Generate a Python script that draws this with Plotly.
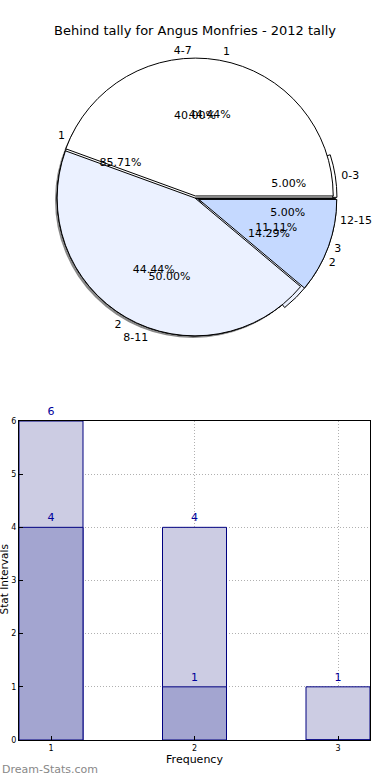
import plotly.graph_objects as go

# ---- data ----
title_text = "Behind tally for Angus Monfries - 2012 tally"

pieA_labels = ["0-3", "4-7", "8-11", "12-15"]
pieA_values = [1, 8, 10, 1]
pieB_labels = ["1", "2", "3"]
pieB_values = [4, 4, 1]
pieC_labels = ["1", "2"]
pieC_values = [6, 1]

pie_colors = ["#FFFFFF", "#EBF1FF", "#C5D9FF", "#A9C6FF"]

freq_x = [1, 2, 3]
light_vals = [6, 4, 1]
dark_vals = [4, 1, 0]

FONT = "DejaVu Sans"
W, H = 390, 780

# pie geometry (pixels)
cx, cy, r0 = 195, 198, 142


def dom(cxp, cyp, r):
    return dict(x=[(cxp - r) / W, (cxp + r) / W],
                y=[(H - cyp - r) / H, (H - cyp + r) / H])


# slices run counter-clockwise from 3 o'clock (drawn as reversed + clockwise)
# (labels, values, pull, inner-text scale for thin slices)
pies = [
    (pieA_labels, pieA_values, [0.03, 0, 0, 0.02], 0.77),
    (pieC_labels, pieC_values, [0, 0.03], 0.82),
    (pieB_labels, pieB_values, [0.015, 0, 0.03], 0.81),
]

fig = go.Figure()

# shadow
fig.add_trace(go.Pie(values=[1], labels=["shadow"], domain=dom(cx - 2, cy + 2, 138),
                     marker=dict(colors=["#6a6a6a"], line=dict(width=0)),
                     textinfo="none", hoverinfo="skip", sort=False, showlegend=False,
                     opacity=0.8))

base = dict(sort=False, direction="clockwise", rotation=90,
            hoverinfo="skip", showlegend=False)

# filled wedges
for labels, values, pull, _ in pies:
    n = len(values)
    fig.add_trace(go.Pie(labels=labels[::-1], values=values[::-1], pull=pull[::-1],
                         domain=dom(cx, cy, r0),
                         marker=dict(colors=pie_colors[:n][::-1],
                                     line=dict(color="#000000", width=1)),
                         textinfo="none", **base))

# texts on top (transparent wedges)
clear = "rgba(0,0,0,0)"
blackfont = dict(family=FONT, size=11, color="#000000")
for labels, values, pull, sc in pies:
    n = len(values)
    tot = sum(values)
    lab_r, val_r, pull_r = labels[::-1], values[::-1], pull[::-1]
    big = ["%{percent:.2%}" if v / tot >= 0.2 else "" for v in val_r]
    small = ["%{percent:.2%}" if v / tot < 0.2 else "" for v in val_r]
    for tmpl, rr in ((big, r0), (small, r0 * sc)):
        fig.add_trace(go.Pie(labels=lab_r, values=val_r, pull=pull_r,
                             domain=dom(cx, cy, rr), hole=0.2,
                             marker=dict(colors=[clear] * n, line=dict(width=0)),
                             texttemplate=tmpl, textposition="inside",
                             insidetextorientation="horizontal",
                             textfont=blackfont, insidetextfont=blackfont,
                             **base))
    fig.add_trace(go.Pie(labels=lab_r, values=val_r, pull=pull_r,
                         domain=dom(cx, cy, r0 * 1.02),
                         marker=dict(colors=[clear] * n, line=dict(width=0)),
                         textinfo="label", textposition="outside",
                         textfont=blackfont, outsidetextfont=blackfont,
                         **base))

# bars
fig.add_trace(go.Bar(x=freq_x, y=light_vals, width=0.446,
                     marker=dict(color="#CCCCE3", line=dict(color="#000080", width=1)),
                     text=[str(v) if v else "" for v in light_vals],
                     textposition="outside", cliponaxis=False,
                     textfont=dict(family=FONT, size=11, color="#00009A"),
                     hoverinfo="skip", showlegend=False))
fig.add_trace(go.Bar(x=freq_x, y=dark_vals, width=0.446,
                     marker=dict(color="#A3A5D0", line=dict(color="#000080", width=1)),
                     text=[str(v) if v else "" for v in dark_vals],
                     textposition="outside", cliponaxis=False,
                     textfont=dict(family=FONT, size=11, color="#00009A"),
                     hoverinfo="skip", showlegend=False))

grid = dict(showgrid=True, gridcolor="#B0B0B0", griddash="1px,2px", gridwidth=1)

fig.update_layout(
    width=W, height=H,
    margin=dict(l=0, r=0, t=0, b=0, autoexpand=False),
    paper_bgcolor="white", plot_bgcolor="white",
    barmode="overlay",
    font=dict(family=FONT, size=11, color="#000000"),
    uniformtext=dict(mode="show", minsize=11),
    title=dict(text=title_text, x=0.5, xanchor="center", y=1 - 30 / H, yanchor="middle",
               font=dict(family=FONT, size=13, color="#000000")),
    xaxis=dict(domain=[19 / W, 370 / W], range=[1 - 0.223, 3 + 0.223], automargin=False,
               tickvals=freq_x, ticktext=[str(v) for v in freq_x],
               showline=True, linecolor="#000000", linewidth=1, mirror=True,
               ticks="inside", ticklen=4, tickcolor="#000000",
               zeroline=False, tickfont=dict(family=FONT, size=8),
               title=dict(text="Frequency", font=dict(family=FONT, size=11), standoff=2),
               **grid),
    yaxis=dict(domain=[(H - 740) / H, (H - 421) / H], range=[0, 6], automargin=False,
               tickvals=[0, 1, 2, 3, 4, 5, 6],
               showline=True, linecolor="#000000", linewidth=1, mirror=True,
               ticks="inside", ticklen=4, tickcolor="#000000",
               zeroline=False, tickfont=dict(family=FONT, size=8),
               **grid),
    annotations=[
        dict(text="Stat Intervals", textangle=-90, xref="paper", yref="paper",
             x=3.5 / W, y=(H - 580) / H, xanchor="center", yanchor="middle",
             showarrow=False, font=dict(family=FONT, size=10.5, color="#000000")),
        dict(text="Dream-Stats.com", xref="paper", yref="paper",
             x=0, y=(H - 769) / H, xanchor="left", yanchor="middle",
             showarrow=False, font=dict(family=FONT, size=11, color="#888888")),
    ],
)

# page body has a default 8px margin; remove it so the figure fills the window
fig.write_html("out.html", config={"displayModeBar": False},
               post_script="document.body.style.margin='0';")
